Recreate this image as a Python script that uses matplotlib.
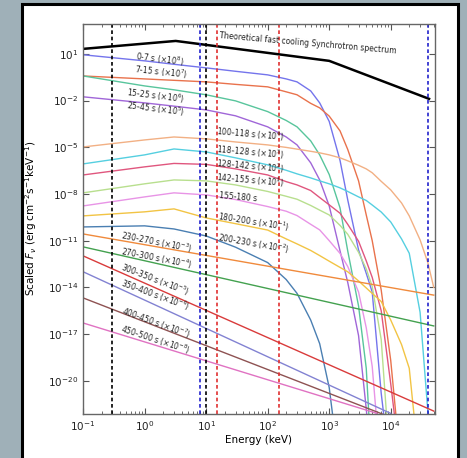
import numpy as np
import matplotlib.pyplot as plt
from matplotlib.patches import Rectangle
from matplotlib.ticker import NullLocator, LogLocator

# energy grid (keV) shared by the curved spectra
E_grid = [0.1, 1, 3, 10, 30, 100, 200, 300, 500, 700, 1000, 1500, 2000, 3000,
          4000, 5000, 7000, 1e4, 1.5e4, 2e4, 3e4, 4e4, 5e4]

# log10 of scaled F_nu (-26 = below the plot)
lf_0_7 = [0.94, 0.55, 0.33, 0.10, -0.12, -0.35, -0.61, -0.80, -1.38, -2.15, -3.34, -5.85,
          -8.38, -11.6, -13.1, -14.3, -20.8, -26, -26, -26, -26, -26, -26]
lf_7_15 = [-0.42, -0.61, -0.70, -0.80, -0.96, -1.12, -1.44, -1.63, -2.18, -2.47, -3.0, -3.95,
           -5.14, -7.16, -9.35, -11.0, -14.17, -18.7, -26, -26, -26, -26, -26]
lf_15_25 = [-0.42, -1.06, -1.31, -1.63, -2.02, -2.71, -3.28, -3.69, -4.59, -5.49, -6.75, -8.90,
            -11.66, -15.2, -19.2, -26, -26, -26, -26, -26, -26, -26, -26]
lf_25_45 = [-1.76, -2.15, -2.36, -2.60, -2.98, -3.69, -4.34, -4.85, -6.0, -7.10, -8.77, -11.66,
            -13.68, -17.1, -21.8, -26, -26, -26, -26, -26, -26, -26, -26]
lf_100_118 = [-4.98, -4.53, -4.34, -4.46, -4.66, -4.85, -5.01, -5.12, -5.26, -5.36, -5.49, -5.68,
              -5.87, -6.16, -6.39, -6.64, -7.19, -7.74, -8.58, -9.41, -10.95, -12.4, -14.0]
lf_118_128 = [-6.07, -5.49, -5.11, -5.30, -5.68, -6.13, -6.48, -6.71, -6.97, -7.16, -7.35, -7.61,
              -7.84, -8.19, -8.42, -8.71, -9.16, -9.80, -10.89, -11.81, -15.6, -21.9, -26]
lf_128_142 = [-6.78, -6.26, -6.04, -6.10, -6.39, -6.78, -7.21, -7.42, -7.78, -8.23, -8.70, -9.24,
              -9.95, -11.04, -12.3, -13.36, -15.5, -20.2, -26, -26, -26, -26, -26]
lf_142_155 = [-7.93, -7.35, -7.10, -7.16, -7.42, -7.84, -8.15, -8.34, -8.74, -9.04, -9.35, -10.02,
              -10.59, -11.75, -12.82, -13.94, -17.35, -26, -26, -26, -26, -26, -26]
lf_155_180 = [-8.77, -8.19, -7.93, -8.06, -8.36, -8.81, -9.11, -9.39, -9.95, -10.31, -11.0, -11.82,
              -12.66, -14.3, -16.6, -19.08, -26, -26, -26, -26, -26, -26, -26]
lf_180_200 = [-9.41, -9.15, -8.96, -9.54, -9.91, -10.32, -10.89, -11.21, -11.63, -11.96, -12.32, -12.72,
              -13.0, -13.59, -14.04, -14.39, -14.91, -16.1, -17.68, -19.2, -26, -26, -26]
lf_200_230 = [-10.12, -10.05, -10.25, -10.70, -11.42, -12.41, -13.5, -14.39, -16.1, -17.62, -20.44, -26,
              -26, -26, -26, -26, -26, -26, -26, -26, -26, -26, -26]

# late-time power laws: end points (keV, log10 F)
E_230_270 = [0.1, 5e4]; lf_230_270 = [-10.57, -14.5]
E_270_300 = [0.1, 5e4]; lf_270_300 = [-11.40, -16.48]
E_300_350 = [0.1, 5e4]; lf_300_350 = [-11.98, -21.95]
E_350_400 = [0.1, 1e4]; lf_350_400 = [-13.0, -22.1]
E_400_450 = [0.1, 8000]; lf_400_450 = [-14.68, -22.2]
E_450_500 = [0.1, 6000]; lf_450_500 = [-16.29, -22.1]

# theoretical fast cooling synchrotron
E_theo = [0.1, 3.2, 1000, 4.2e4]
lf_theo = [1.32, 1.83, 0.55, -1.89]

curved = [
    (lf_0_7, '#7474ec'), (lf_7_15, '#e9724c'), (lf_15_25, '#58c59c'), (lf_25_45, '#a066d8'),
    (lf_100_118, '#f2b084'), (lf_118_128, '#55cfe0'), (lf_128_142, '#e0567e'),
    (lf_142_155, '#b8df8e'), (lf_155_180, '#e894e6'), (lf_180_200, '#f2c444'),
    (lf_200_230, '#4a7fb2'),
]
straight = [
    (E_230_270, lf_230_270, '#f08a3c'), (E_270_300, lf_270_300, '#43a14f'),
    (E_300_350, lf_300_350, '#d93b3b'), (E_350_400, lf_350_400, '#8282d2'),
    (E_400_450, lf_400_450, '#8e5252'), (E_450_500, lf_450_500, '#e072c2'),
]

labels = ['0-7 s ($\\times10^{8}$)', '7-15 s ($\\times10^{7}$)', '15-25 s ($\\times10^{6}$)',
          '25-45 s ($\\times10^{5}$)', '100-118 s ($\\times10^{4}$)', '118-128 s ($\\times10^{3}$)',
          '128-142 s ($\\times10^{2}$)', '142-155 s ($\\times10^{1}$)', '155-180 s',
          '180-200 s ($\\times10^{-1}$)', '200-230 s ($\\times10^{-2}$)',
          '230-270 s ($\\times10^{-3}$)', '270-300 s ($\\times10^{-4}$)',
          '300-350 s ($\\times10^{-5}$)', '350-400 s ($\\times10^{-6}$)',
          '400-450 s ($\\times10^{-7}$)', '450-500 s ($\\times10^{-8}$)']
lab_x = [0.219, 0.222, 0.207, 0.207, 0.477, 0.477, 0.477, 0.477, 0.440, 0.486, 0.486,
         0.210, 0.210, 0.205, 0.205, 0.207, 0.207]
lab_y = [0.908, 0.877, 0.815, 0.782, 0.718, 0.672, 0.636, 0.600, 0.556, 0.492, 0.436,
         0.441, 0.400, 0.344, 0.305, 0.233, 0.190]
lab_rot = [-7, -6, -7, -7, -5, -5, -5, -5, -5, -9, -10, -11, -11, -21, -20, -20, -18]

fig = plt.figure(figsize=(4.67, 4.58), dpi=100)
fig.patch.set_facecolor('#9fb0b8')
fig.add_artist(Rectangle((0.047, -0.02), 0.934, 1.011, transform=fig.transFigure,
                         facecolor='white', edgecolor='black', linewidth=2.2, zorder=-10))
ax = fig.add_axes([0.178, 0.096, 0.753, 0.852])
ax.set_zorder(1)
ax.set_facecolor('white')

E = np.array(E_grid)
for lf, c in curved:
    ax.plot(E, 10.0**np.array(lf), color=c, lw=1.0)
for e, lf, c in straight:
    ax.plot(e, 10.0**np.array(lf), color=c, lw=1.0)
ax.plot(E_theo, 10.0**np.array(lf_theo), color='black', lw=1.8)

# instrument bands
for xv, c in [(0.3, 'black'), (10, 'black'), (8, '#2222cc'), (4e4, '#2222cc'),
              (15, '#e03030'), (150, '#e03030')]:
    ax.axvline(xv, color=c, lw=1.2, ls=(0, (2.2, 1.6)))

ax.set_xscale('log')
ax.set_yscale('log')
ax.set_xlim(0.1, 5.2e4)
ax.set_ylim(10**-22.14, 10**2.93)
ax.set_yticks(10.0**np.arange(-20, 2, 3))
ax.yaxis.set_minor_locator(NullLocator())
ax.xaxis.set_minor_locator(LogLocator(subs=np.arange(2, 10)))
ax.tick_params(which='both', direction='in', top=True, right=True, labelsize=7.5,
               color='#555555', labelcolor='#222222')
ax.tick_params(which='major', length=4)
ax.tick_params(which='minor', length=2)
for s in ax.spines.values():
    s.set_color('#666666')
    s.set_linewidth(1.0)

for t, x, y, r in zip(labels, lab_x, lab_y, lab_rot):
    ax.text(x, y, t, transform=ax.transAxes, fontsize=5.5, rotation=r,
            ha='center', va='center', rotation_mode='anchor', color='#222222')
ax.text(0.639, 0.95, 'Theoretical fast cooling Synchrotron spectrum', transform=ax.transAxes,
        fontsize=5.5, rotation=-5, ha='center', va='center', rotation_mode='anchor', color='#222222')

ax.set_xlabel('Energy (keV)', fontsize=7.5)
ax.set_ylabel(r'Scaled $F_\nu$ (erg cm$^{-2}$s$^{-1}$keV$^{-1}$)', fontsize=7.5)
ax.yaxis.set_label_coords(-0.125, 0.5)
ax.xaxis.set_label_coords(0.5, -0.055)

fig.savefig('out.png', dpi=100, facecolor=fig.get_facecolor())
